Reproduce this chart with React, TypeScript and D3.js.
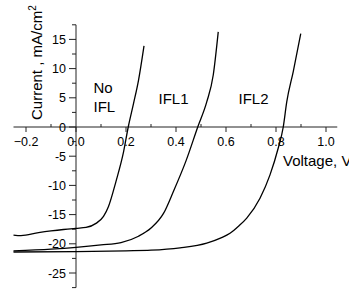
import React, { useRef, useEffect } from 'react';
import * as d3 from 'd3';

// J-V curves, voltage in V, current density in mA/cm2
const noIflV = [-0.25, -0.22, -0.15, -0.1, -0.05, 0, 0.04, 0.08, 0.11, 0.13, 0.16, 0.19, 0.209, 0.23, 0.25, 0.272];
const noIflJ = [-18.5, -18.6, -18.1, -17.8, -17.55, -17.35, -17.2, -16.5, -15.3, -13.6, -9.3, -4.3, 0, 4.0, 8.0, 13.9];

const ifl1V = [-0.25, -0.1, 0, 0.1, 0.18, 0.25, 0.3, 0.35, 0.39, 0.44, 0.487, 0.523, 0.549, 0.569];
const ifl1J = [-21.2, -20.9, -20.6, -20.2, -19.8, -18.7, -17.3, -14.8, -11.0, -5.8, 0, 4.3, 8.9, 16.3];

const ifl2V = [-0.25, 0, 0.2, 0.3, 0.416, 0.523, 0.58, 0.616, 0.65, 0.683, 0.736, 0.776, 0.809, 0.829, 0.843, 0.869, 0.899];
const ifl2J = [-21.4, -21.35, -21.2, -21.1, -20.7, -19.9, -19.0, -18.2, -17.0, -15.6, -12.2, -8.2, -3.6, 0, 4.3, 9.5, 16.0];

const xTicks = [-0.2, 0, 0.2, 0.4, 0.6, 0.8, 1.0];
const xMinor = [-0.1, 0.1, 0.3, 0.5, 0.7, 0.9];
const yTicks = [-25, -20, -15, -10, -5, 0, 5, 10, 15];
const yMinor = [-27.5, -22.5, -17.5, -12.5, -7.5, -2.5, 2.5, 7.5, 12.5, 17.5];

const curveLabels = [
  { lines: ['No', 'IFL'], v: 0.07, j: 5.8 },
  { lines: ['IFL1'], v: 0.33, j: 3.9 },
  { lines: ['IFL2'], v: 0.65, j: 3.9 },
];

const FONT = 'Arial, "Liberation Sans", sans-serif';

const App = () => {
  const ref = useRef<SVGSVGElement>(null);

  useEffect(() => {
    const svg = d3.select(ref.current);
    svg.selectAll('*').remove();

    const x = d3.scaleLinear().domain([-0.25, 1.05]).range([13.5, 338.5]);
    const y = d3.scaleLinear().domain([-27.5, 17.5]).range([287.6, 24.8]);
    const x0 = x(0);
    const y0 = y(0);

    const axisColor = '#222';

    // x axis
    svg.append('line')
      .attr('x1', x(-0.25)).attr('x2', x(1.045))
      .attr('y1', y0).attr('y2', y0)
      .attr('stroke', axisColor).attr('stroke-width', 1);

    xTicks.forEach((t) => {
      svg.append('line')
        .attr('x1', x(t)).attr('x2', x(t))
        .attr('y1', y0).attr('y2', y0 + 5)
        .attr('stroke', axisColor);
      svg.append('text')
        .attr('x', x(t)).attr('y', 146)
        .attr('text-anchor', 'middle')
        .attr('font-family', FONT).attr('font-size', 12.5)
        .text(d3.format('.1f')(t));
    });
    xMinor.forEach((t) => {
      svg.append('line')
        .attr('x1', x(t)).attr('x2', x(t))
        .attr('y1', y0).attr('y2', y0 - 3)
        .attr('stroke', axisColor);
    });

    // y axis
    svg.append('line')
      .attr('x1', x0).attr('x2', x0)
      .attr('y1', y(17.5)).attr('y2', y(-27.5))
      .attr('stroke', axisColor).attr('stroke-width', 1);

    yTicks.forEach((t) => {
      svg.append('line')
        .attr('x1', x0 - 7).attr('x2', x0)
        .attr('y1', y(t)).attr('y2', y(t))
        .attr('stroke', axisColor);
      svg.append('text')
        .attr('x', x0 - 10).attr('y', y(t))
        .attr('dy', '0.36em')
        .attr('text-anchor', 'end')
        .attr('font-family', FONT).attr('font-size', 12.5)
        .text(String(t));
    });
    yMinor.forEach((t) => {
      svg.append('line')
        .attr('x1', x0 - 4).attr('x2', x0)
        .attr('y1', y(t)).attr('y2', y(t))
        .attr('stroke', axisColor);
    });

    // curves
    const line = d3.line<[number, number]>()
      .x((d) => x(d[0]))
      .y((d) => y(d[1]))
      .curve(d3.curveMonotoneX);

    [[noIflV, noIflJ], [ifl1V, ifl1J], [ifl2V, ifl2J]].forEach(([vs, js]) => {
      const pts = vs.map((v, i) => [v, js[i]] as [number, number]);
      svg.append('path')
        .attr('d', line(pts))
        .attr('fill', 'none')
        .attr('stroke', '#000')
        .attr('stroke-width', 1.3);
    });

    // curve labels
    curveLabels.forEach((lab) => {
      lab.lines.forEach((s, i) => {
        svg.append('text')
          .attr('x', x(lab.v)).attr('y', y(lab.j) + i * 19)
          .attr('font-family', FONT).attr('font-size', 15)
          .text(s);
      });
    });

    // axis titles
    const yt = svg.append('text')
      .attr('transform', 'translate(42,120) rotate(-90)')
      .attr('font-family', FONT).attr('font-size', 15);
    yt.append('tspan').text('Current , mA/cm');
    yt.append('tspan').attr('font-size', 10).attr('dy', -6).text('2');

    svg.append('text')
      .attr('x', 283).attr('y', 166)
      .attr('font-family', FONT).attr('font-size', 15)
      .text('Voltage, V');
  }, []);

  return (
    <svg
      ref={ref}
      width="349"
      height="289"
      style={{ position: 'absolute', left: 0, top: 0, background: '#fff' }}
    ></svg>
  );
};

export default App;
